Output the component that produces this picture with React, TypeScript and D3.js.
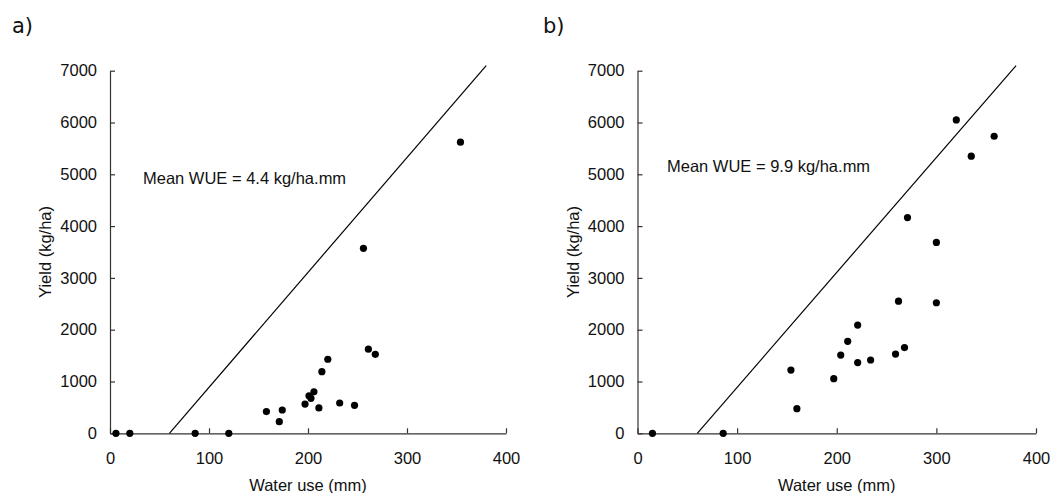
import React, { useEffect, useRef } from 'react';
import * as d3 from 'd3';

const WIDTH = 1051;
const HEIGHT = 493;
const FONT = '"Liberation Sans", Arial, sans-serif';
const FONT_SIZE = 16.5;

const xTicks = [0, 100, 200, 300, 400];
const yTicks = [0, 1000, 2000, 3000, 4000, 5000, 6000, 7000];

// panel a
const waterUseA = [6, 20, 86, 120, 158, 171, 174, 197, 201, 203, 206, 211, 214, 220, 232, 247, 256, 261, 268, 354];
const yieldA = [0, 0, 0, 0, 420, 225, 450, 565, 725, 675, 800, 490, 1190, 1430, 585, 540, 3570, 1625, 1525, 5620];

// panel b
const waterUseB = [15, 86, 154, 160, 197, 204, 211, 221, 221, 234, 259, 262, 268, 271, 300, 300, 320, 335, 358];
const yieldB = [0, 0, 1220, 475, 1055, 1510, 1775, 2090, 1365, 1415, 1530, 2550, 1655, 4165, 3685, 2520, 6050, 5350, 5735];

// boundary line, same on both panels
const boundaryWater = [60, 380];
const boundaryYield = [0, 7100];

const panelLabels = ['a)', 'b)'];
const wueLabels = ['Mean WUE = 4.4 kg/ha.mm', 'Mean WUE = 9.9 kg/ha.mm'];

const TOP = 70.7;
const BOTTOM = 433.3;

type PanelProps = {
    left: number;
    right: number;
    label: string;
    labelX: number;
    wue: string;
    wueX: number;
    wueY: number;
    water: number[];
    yields: number[];
};

const Panel = ({ left, right, label, labelX, wue, wueX, wueY, water, yields }: PanelProps) => {
    const xAxisRef = useRef<SVGGElement>(null);
    const yAxisRef = useRef<SVGGElement>(null);

    const x = d3.scaleLinear().domain([0, 400]).range([left, right]);
    const y = d3.scaleLinear().domain([0, 7000]).range([BOTTOM, TOP]);

    useEffect(() => {
        const xg = d3.select(xAxisRef.current!);
        xg.call(d3.axisBottom(x).tickValues(xTicks).tickFormat(d3.format('d'))
            .tickSizeInner(-5).tickSizeOuter(0).tickPadding(19));
        const yg = d3.select(yAxisRef.current!);
        yg.call(d3.axisLeft(y).tickValues(yTicks).tickFormat(d3.format('d'))
            .tickSizeInner(-5).tickSizeOuter(0).tickPadding(13));

        [xg, yg].forEach(g => {
            g.attr('font-family', FONT).attr('font-size', FONT_SIZE);
            g.select('.domain').attr('stroke', '#333').attr('stroke-width', 1.2);
            g.selectAll('.tick line').attr('stroke', '#333').attr('stroke-width', 1.2);
            g.selectAll('.tick text').attr('fill', '#111');
        });
    }, [left, right]);

    const boundary = d3.line<number>()
        .x(d => x(d))
        .y((d, i) => y(boundaryYield[i]));

    return (
        <g>
            <text x={labelX} y={33} fontFamily='"DejaVu Sans", Verdana, sans-serif' fontSize={21} fill="#111">
                {label}
            </text>
            <g ref={xAxisRef} transform={`translate(0,${BOTTOM})`} />
            <g ref={yAxisRef} transform={`translate(${left},0)`} />
            <path d={boundary(boundaryWater) || ''} fill="none" stroke="#000" strokeWidth={1.2} />
            {water.map((w, i) => (
                <circle key={i} cx={x(w)} cy={y(yields[i])} r={3.6} fill="#000" />
            ))}
            <text x={wueX} y={wueY} fontFamily={FONT} fontSize={FONT_SIZE} fill="#111">{wue}</text>
            <text x={(left + right) / 2} y={491} textAnchor="middle" fontFamily={FONT} fontSize={FONT_SIZE} fill="#111">
                Water use (mm)
            </text>
            <text transform={`translate(${left - 59},${(TOP + BOTTOM) / 2}) rotate(-90)`}
                textAnchor="middle" fontFamily={FONT} fontSize={FONT_SIZE} fill="#111">
                Yield (kg/ha)
            </text>
        </g>
    );
};

export default function App() {
    return (
        <svg width={WIDTH} height={HEIGHT}
            style={{ position: 'absolute', left: 0, top: 0, background: '#fff' }}>
            <Panel left={110} right={506} label={panelLabels[0]} labelX={12}
                wue={wueLabels[0]} wueX={143} wueY={184} water={waterUseA} yields={yieldA} />
            <Panel left={637.5} right={1036} label={panelLabels[1]} labelX={543}
                wue={wueLabels[1]} wueX={667} wueY={172} water={waterUseB} yields={yieldB} />
        </svg>
    );
}
